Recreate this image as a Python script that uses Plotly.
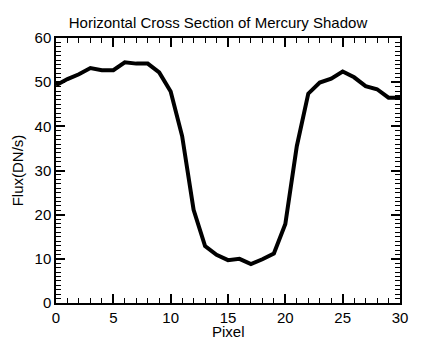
import plotly.graph_objects as go

# pixel index along the horizontal cut
pixel = list(range(31))
# flux (DN/s)
flux = [49.3, 50.7, 51.8, 53.2, 52.7, 52.7, 54.5, 54.2, 54.2, 52.2,
        47.9, 37.8, 21.1, 12.9, 10.9, 9.7, 10.0, 8.8, 9.9, 11.2,
        17.9, 35.5, 47.4, 49.9, 50.8, 52.4, 51.1, 49.1, 48.4, 46.5, 46.5]

title = "Horizontal Cross Section of Mercury Shadow"

fig = go.Figure(go.Scatter(x=pixel, y=flux, mode="lines",
                           line=dict(color="black", width=4)))

axis_common = dict(showgrid=False, zeroline=False, showline=True,
                   linecolor="black", linewidth=1.5, mirror="allticks",
                   ticks="inside", tickcolor="black", tickwidth=1.5,
                   ticklen=9, tickfont=dict(size=15, color="black"),
                   automargin=False)

fig.update_xaxes(range=[0, 30], dtick=5, tick0=0,
                 minor=dict(dtick=1, ticks="inside", ticklen=5,
                            tickcolor="black", tickwidth=1.2),
                 **axis_common)
fig.update_yaxes(range=[0, 60], dtick=10, tick0=0,
                 minor=dict(dtick=1, ticks="inside", ticklen=5,
                            tickcolor="black", tickwidth=1.2),
                 title=dict(text="Flux(DN/s)", font=dict(size=15, color="black"),
                            standoff=7),
                 **axis_common)

# x title sits tight under the tick labels, closer than plotly's axis title allows
fig.add_annotation(text="Pixel", x=0.5, xref="paper", y=-0.107, yref="paper",
                   xanchor="center", yanchor="middle", showarrow=False,
                   font=dict(size=15, color="black"))

fig.update_layout(
    width=436, height=349,
    margin=dict(l=56, r=36, t=38, b=46),
    paper_bgcolor="white", plot_bgcolor="white",
    font=dict(family="Liberation Sans, Arial, sans-serif", color="black"),
    title=dict(text=title, x=0.5, xanchor="center", y=0.936, yanchor="middle",
               font=dict(size=15, color="black")),
    showlegend=False,
)

# drop the browser's default page margin so the figure sits at the corner
fig.write_html("out.html", config={"displayModeBar": False},
               post_script="document.body.style.margin='0';")
